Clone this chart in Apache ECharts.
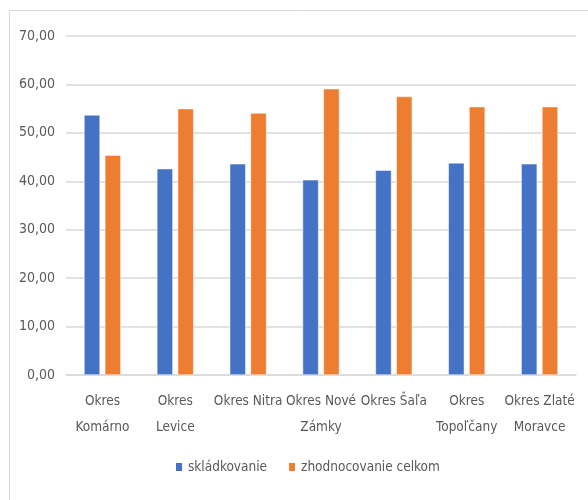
<!DOCTYPE html>
<html>
<head>
<meta charset="utf-8">
<script src="https://cdn.jsdelivr.net/npm/echarts@6/dist/echarts.min.js"></script>
<style>
  html, body { margin: 0; padding: 0; background: #fff; }
  #chart { width: 588px; height: 500px; }
</style>
</head>
<body>
<div id="chart"></div>
<script>
const districts = [
  'Okres\nKomárno',
  'Okres\nLevice',
  'Okres Nitra',
  'Okres Nové\nZámky',
  'Okres Šaľa',
  'Okres\nTopoľčany',
  'Okres Zlaté\nMoravce'
]
const landfill = [53.7, 42.6, 43.6, 40.3, 42.3, 43.8, 43.6] // skládkovanie
const recovery = [45.4, 55.0, 54.1, 59.1, 57.5, 55.4, 55.4] // zhodnocovanie celkom
const yTicks = { min: 0, max: 70, interval: 10 }

const font = '"DejaVu Sans Condensed", "Liberation Sans Narrow", sans-serif'
const grey = '#595959'

const chart = echarts.init(document.getElementById('chart'))
chart.setOption({
  animation: false,
  textStyle: { fontFamily: font },
  graphic: [{
    type: 'rect',
    shape: { x: 9.5, y: 10.5, width: 700, height: 700 },
    style: { fill: 'none', stroke: '#d9d9d9', lineWidth: 1 },
    silent: true
  }],
  grid: { left: 66, right: 12, top: 36, bottom: 125 },
  legend: {
    bottom: 21,
    left: 169,
    itemWidth: 8,
    itemHeight: 10,
    itemGap: 20,
    icon: 'rect',
    textStyle: { fontFamily: font, fontSize: 13.5, color: grey },
    data: ['skládkovanie', 'zhodnocovanie celkom']
  },
  xAxis: {
    type: 'category',
    data: districts,
    axisLine: { lineStyle: { color: '#d9d9d9', width: 1.5 } },
    axisTick: { show: false },
    axisLabel: {
      color: grey,
      fontSize: 13.5,
      lineHeight: 26,
      margin: 13,
      interval: 0,
      fontFamily: font
    }
  },
  yAxis: {
    type: 'value',
    min: yTicks.min,
    max: yTicks.max,
    interval: yTicks.interval,
    axisLine: { show: false },
    axisTick: { show: false },
    splitLine: { lineStyle: { color: '#d9d9d9', width: 1.5 } },
    axisLabel: {
      color: grey,
      fontSize: 14,
      margin: 11,
      fontFamily: font,
      formatter: v => v.toFixed(2).replace('.', ',')
    }
  },
  series: [
    {
      name: 'skládkovanie',
      type: 'bar',
      data: landfill,
      barWidth: 16,
      barGap: '30%',
      itemStyle: { color: '#4472C4', borderColor: '#ffffff', borderWidth: 0.5 }
    },
    {
      name: 'zhodnocovanie celkom',
      type: 'bar',
      data: recovery,
      barWidth: 16,
      barGap: '30%',
      itemStyle: { color: '#ED7D31', borderColor: '#ffffff', borderWidth: 0.5 }
    }
  ]
})
</script>
</body>
</html>
